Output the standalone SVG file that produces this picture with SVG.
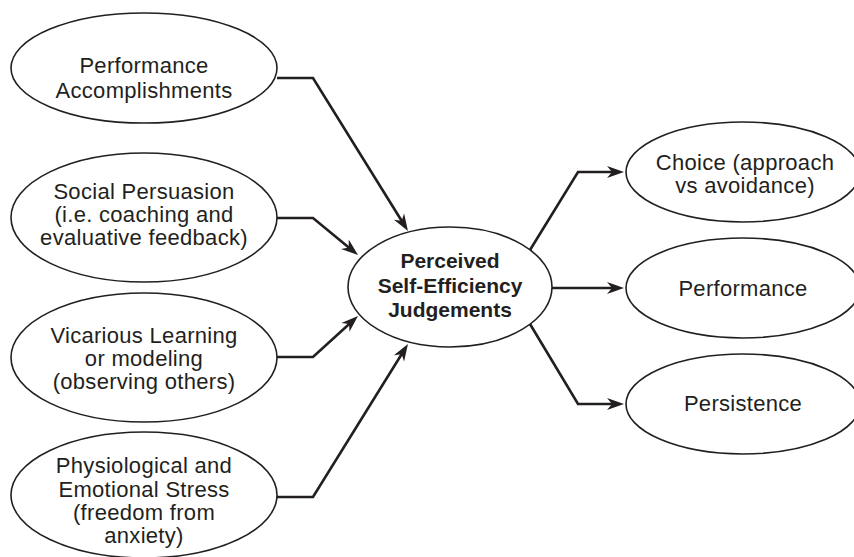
<svg xmlns="http://www.w3.org/2000/svg" width="854" height="557" viewBox="0 0 854 557">
  <style>
    .node ellipse { fill: #ffffff; stroke: #231f20; stroke-width: 1.6; }
    .node text { font-family: "Liberation Sans", Arial, sans-serif; font-size: 22px; letter-spacing: 0.3px; fill: #231f20; text-anchor: middle; }
    .node text.bold { font-weight: bold; font-size: 21px; letter-spacing: 0; }
    .links path { fill: none; stroke: #231f20; stroke-width: 2.6; stroke-linejoin: miter; marker-end: url(#arrow); }
  </style>
  <defs>
    <marker id="arrow" markerUnits="userSpaceOnUse" markerWidth="20" markerHeight="14" viewBox="0 -7 20 14" refX="7" refY="0" orient="auto">
      <path d="M0,-6 L17,0 L0,6 L5,0 Z" fill="#231f20"/>
    </marker>
  </defs>
  <rect width="854" height="557" fill="#ffffff"/>

  <!-- connectors -->
  <g class="links">
    <path d="M277,78 L313,78 L402.7,222.5"/>
    <path d="M277,218 L313,218 L350.3,248.7"/>
    <path d="M277,357 L313,357 L350.6,322.7"/>
    <path d="M277,497 L313,497 L402.7,352.5"/>
    <path d="M530,250 L578,172 L614,172"/>
    <path d="M552,288 L614,288"/>
    <path d="M530,324 L578,404 L614,404"/>
  </g>

  <!-- input factors -->
  <g id="performance-accomplishments" class="node">
    <ellipse cx="144" cy="68" rx="133" ry="55"/>
    <text x="144" y="73">Performance</text>
    <text x="144" y="98">Accomplishments</text>
  </g>
  <g id="social-persuasion" class="node">
    <ellipse cx="144" cy="217.5" rx="133" ry="64.5"/>
    <text x="144" y="199">Social Persuasion</text>
    <text x="144" y="222">(i.e. coaching and</text>
    <text x="144" y="245">evaluative feedback)</text>
  </g>
  <g id="vicarious-learning" class="node">
    <ellipse cx="144" cy="357.5" rx="133" ry="64.5"/>
    <text x="144" y="343">Vicarious Learning</text>
    <text x="144" y="366">or modeling</text>
    <text x="144" y="389">(observing others)</text>
  </g>
  <g id="physiological-stress" class="node">
    <ellipse cx="144" cy="495" rx="133" ry="63"/>
    <text x="144" y="473">Physiological and</text>
    <text x="144" y="497">Emotional Stress</text>
    <text x="144" y="520">(freedom from</text>
    <text x="144" y="543">anxiety)</text>
  </g>

  <!-- central construct -->
  <g id="self-efficiency" class="node">
    <ellipse cx="450" cy="287" rx="102" ry="60"/>
    <text class="bold" x="450" y="268">Perceived</text>
    <text class="bold" x="450" y="293">Self-Efficiency</text>
    <text class="bold" x="450" y="317">Judgements</text>
  </g>

  <!-- outcomes -->
  <g id="choice" class="node">
    <ellipse cx="743" cy="172" rx="117" ry="50"/>
    <text x="745" y="170">Choice (approach</text>
    <text x="745" y="193">vs avoidance)</text>
  </g>
  <g id="performance" class="node">
    <ellipse cx="743" cy="288" rx="117" ry="50"/>
    <text x="743" y="296">Performance</text>
  </g>
  <g id="persistence" class="node">
    <ellipse cx="743" cy="404" rx="117" ry="50"/>
    <text x="743" y="411">Persistence</text>
  </g>
</svg>
